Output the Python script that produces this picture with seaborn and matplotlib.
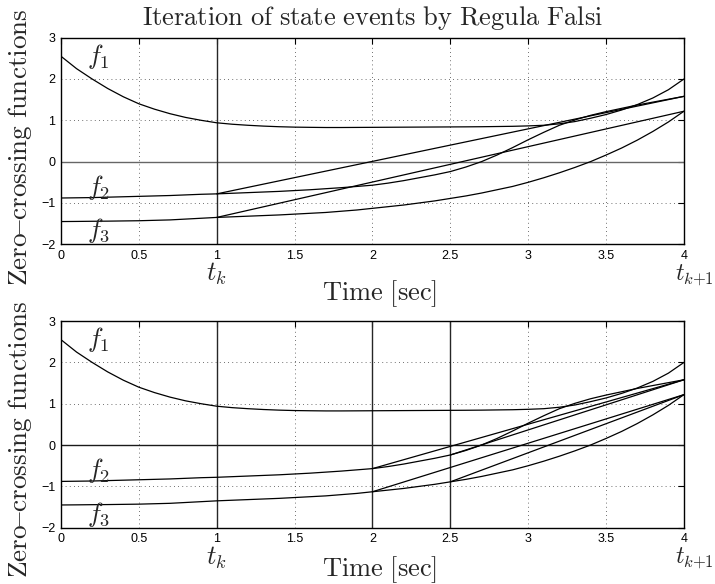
import numpy as np
import pandas as pd
import matplotlib
matplotlib.use("Agg")
import matplotlib.pyplot as plt
import seaborn as sns

# ---------------- data ----------------
t = [0.0, 0.1, 0.2, 0.3, 0.4, 0.5, 0.6, 0.7, 0.8, 0.9,
     1.0, 1.1, 1.2, 1.3, 1.4, 1.5, 1.6, 1.7, 1.8, 1.9,
     2.0, 2.1, 2.2, 2.3, 2.4, 2.5, 2.6, 2.7, 2.8, 2.9,
     3.0, 3.1, 3.2, 3.3, 3.4, 3.5, 3.6, 3.7, 3.8, 3.9, 4.0]

f1 = [2.55, 2.25, 2.00, 1.77, 1.57, 1.40, 1.27, 1.16, 1.07, 1.00,
      0.94, 0.905, 0.88, 0.86, 0.845, 0.835, 0.83, 0.826, 0.826, 0.828,
      0.83, 0.832, 0.834, 0.836, 0.838, 0.84, 0.842, 0.845, 0.85, 0.855,
      0.865, 0.88, 0.915, 0.97, 1.05, 1.14, 1.25, 1.38, 1.54, 1.74, 2.00]

f2 = [-0.88, -0.875, -0.87, -0.86, -0.85, -0.84, -0.83, -0.82, -0.805, -0.79,
      -0.78, -0.765, -0.75, -0.735, -0.72, -0.70, -0.68, -0.655, -0.63, -0.60,
      -0.57, -0.52, -0.46, -0.39, -0.32, -0.24, -0.13, 0.00, 0.16, 0.34,
      0.53, 0.71, 0.88, 1.01, 1.12, 1.21, 1.29, 1.37, 1.44, 1.51, 1.58]

f3 = [-1.45, -1.447, -1.443, -1.44, -1.435, -1.43, -1.42, -1.41, -1.39, -1.37,
      -1.35, -1.335, -1.32, -1.305, -1.29, -1.27, -1.25, -1.23, -1.20, -1.17,
      -1.13, -1.09, -1.05, -1.00, -0.95, -0.89, -0.83, -0.76, -0.68, -0.60,
      -0.50, -0.39, -0.27, -0.14, 0.00, 0.16, 0.33, 0.52, 0.73, 0.96, 1.22]

curve_names = ["f1", "f2", "f3"]
crossing_fns = ["f2", "f3"]          # functions that get a Regula Falsi secant

t_end = 4.0                           # t_{k+1}
top_marks = [1.0]                     # vertical lines, top panel
top_starts = [1.0]                    # secant start times, top panel
bot_marks = [1.0, 2.0, 2.5]           # vertical lines, bottom panel
bot_starts = [2.0, 2.5]               # secant start times, bottom panel

xticks = [0, 0.5, 1, 1.5, 2, 2.5, 3, 3.5, 4]
xticklabels = ["0", "0.5", "1", "1.5", "2", "2.5", "3", "3.5", "4"]
yticks = [-2, -1, 0, 1, 2, 3]
yticklabels = ["\u22122", "\u22121", "0", "1", "2", "3"]

title = r"$\mathrm{Iteration\ of\ state\ events\ by\ Regula\ Falsi}$"
xlabel = r"$\mathrm{Time\ [sec]}$"
ylabel = "$\\mathrm{Zero\u2013crossing\\ functions}$"

# ---------------- frames ----------------
series = {"f1": f1, "f2": f2, "f3": f3}
curves = pd.DataFrame({
    "t": np.tile(t, 3),
    "v": np.concatenate([series[n] for n in curve_names]),
    "fn": np.repeat(curve_names, len(t)),
})


def value_at(name, tt):
    idx = int(np.argmin(np.abs(np.asarray(t) - tt)))
    return series[name][idx]


def secants(starts):
    rows = []
    for s in starts:
        for n in crossing_fns:
            key = f"{n}_{s}"
            rows.append((key, s, value_at(n, s)))
            rows.append((key, t_end, value_at(n, t_end)))
    return pd.DataFrame(rows, columns=["seg", "t", "v"])


# ---------------- style ----------------
sns.set_theme(style="white")
plt.rcParams.update({
    "font.family": ["Liberation Sans", "DejaVu Sans"],
    "mathtext.fontset": "cm",
    "axes.edgecolor": "black",
    "axes.linewidth": 1.0,
    "xtick.direction": "in",
    "ytick.direction": "in",
    "xtick.top": True,
    "ytick.right": True,
    "xtick.major.size": 4,
    "ytick.major.size": 4,
    "xtick.major.width": 0.8,
    "ytick.major.width": 0.8,
    "xtick.color": "black",
    "ytick.color": "black",
})

fig = plt.figure(figsize=(7.15, 5.84), dpi=100)
ax_top = fig.add_axes([0.0853, 0.5817, 0.8713, 0.3538])
ax_bot = fig.add_axes([0.0853, 0.0964, 0.8713, 0.3538])

BIG = 19


def draw(ax, marks, starts, zero_color, ylab_y):
    ax.set_xlim(0, 4)
    ax.set_ylim(-2, 3)
    ax.set_xticks(xticks)
    ax.set_xticklabels(xticklabels)
    ax.set_yticks(yticks)
    ax.set_yticklabels(yticklabels)
    ax.tick_params(axis="both", labelsize=9, pad=4)
    ax.grid(True, color="0.25", linestyle=(0, (1, 4)), linewidth=0.6)
    ax.set_axisbelow(True)

    ax.axhline(0, color=zero_color, lw=1.0, zorder=2)
    for m in marks:
        ax.axvline(m, color="0.15", lw=1.0, zorder=2)

    sns.lineplot(data=curves, x="t", y="v", units="fn", estimator=None,
                 color="black", lw=0.9, sort=False, legend=False, ax=ax, zorder=3)
    sns.lineplot(data=secants(starts), x="t", y="v", units="seg", estimator=None,
                 color="black", lw=0.9, sort=False, legend=False, ax=ax, zorder=3)

    for sp in ax.spines.values():
        sp.set_visible(True)
        sp.set_color("black")
        sp.set_linewidth(1.0)

    ax.set_xlabel(xlabel, fontsize=BIG)
    ax.set_ylabel(ylabel, fontsize=19.6)
    ax.yaxis.set_label_coords(-0.043, ylab_y)

    ax.text(0.17, 2.55, r"$f_1$", fontsize=BIG, ha="left", va="center")
    ax.text(0.17, -0.62, r"$f_2$", fontsize=BIG, ha="left", va="center")
    ax.text(0.17, -1.68, r"$f_3$", fontsize=BIG, ha="left", va="center")

    tr = ax.get_xaxis_transform()
    ax.text(1.0, -0.145, r"$t_k$", fontsize=BIG, ha="center", va="center", transform=tr)
    ax.text(3.945, -0.15, r"$t_{k{+}1}$", fontsize=17, ha="left", va="center", transform=tr)


draw(ax_top, top_marks, top_starts, "0.4", 0.47)
draw(ax_bot, bot_marks, bot_starts, "0.1", 0.43)

ax_top.xaxis.set_label_coords(0.511, -0.165)
ax_bot.xaxis.set_label_coords(0.511, -0.13)
ax_top.set_title(title, fontsize=BIG, pad=9)

fig.savefig("out.png", dpi=100, facecolor="white")
